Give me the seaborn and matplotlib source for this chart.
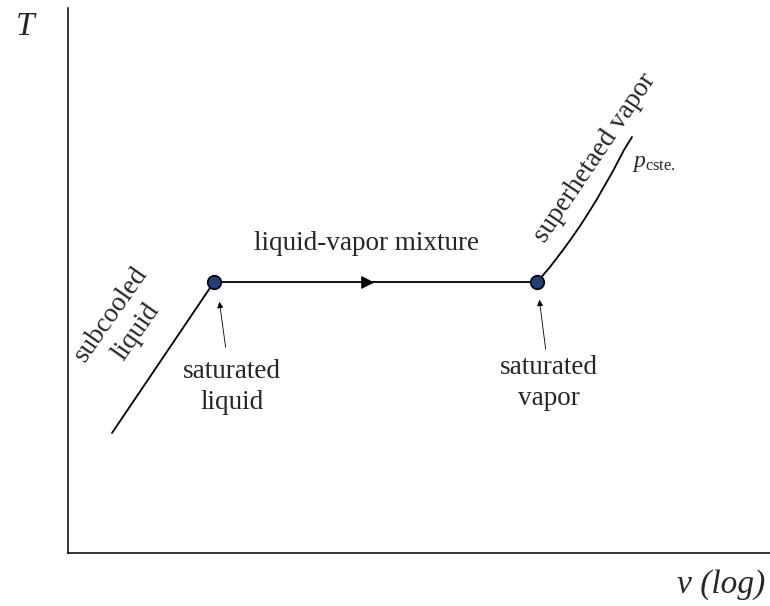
import numpy as np
import matplotlib
matplotlib.use("Agg")
import matplotlib.pyplot as plt
import seaborn as sns

# 스타일 설정
sns.set_style("white")
plt.rcParams["font.family"] = ["Liberation Serif", "DejaVu Serif"]
plt.rcParams["mathtext.fontset"] = "custom"
plt.rcParams["mathtext.rm"] = "Liberation Serif"
plt.rcParams["mathtext.it"] = "Liberation Serif:italic"

# 곡선 데이터 (도식 좌표)
v_sub = [44, 146]
T_sub = [120, 271]
v_mix = [146, 469]
T_mix = [271, 271]
v_sup = [469, 476, 482, 495, 503, 512, 521, 529, 537, 545, 556, 564]
T_sup = [271, 279, 286, 303, 314, 327, 341, 354, 368, 382, 403, 416]
v_sat = [146, 469]
T_sat = [271, 271]
v_dir = [299]
T_dir = [271]

fig = plt.figure(figsize=(7.7, 6.06), dpi=100)
ax = fig.add_axes([68 / 770, 53 / 606, 702 / 770, 545 / 606])

sns.lineplot(x=v_sub, y=T_sub, sort=False, color="black", lw=1.3, ax=ax)
sns.lineplot(x=v_mix, y=T_mix, sort=False, color="black", lw=1.3, ax=ax)
sns.lineplot(x=v_sup, y=T_sup, sort=False, color="black", lw=1.3, ax=ax)
sns.scatterplot(x=v_dir, y=T_dir, marker=">", s=70, color="black",
                edgecolor="black", ax=ax, zorder=4)
sns.scatterplot(x=v_sat, y=T_sat, s=95, color="#233f7a", edgecolor="black",
                linewidth=1.2, ax=ax, zorder=5)

ax.set_xlim(0, 702)
ax.set_ylim(0, 545)
ax.set_xticks([])
ax.set_yticks([])
for side in ["top", "right"]:
    ax.spines[side].set_visible(False)
for side in ["left", "bottom"]:
    ax.spines[side].set_color("black")
    ax.spines[side].set_linewidth(1.1)

# 라벨
fs = 19.5
ax.text(299, 309, "liquid-vapor mixture", fontsize=fs, ha="center", va="center")
ax.text(164, 166, "saturated\nliquid", fontsize=fs, ha="center", va="center",
        linespacing=1.35)
ax.text(481, 170, "saturated\nvapor", fontsize=fs, ha="center", va="center",
        linespacing=1.35)
ax.text(56, 230, "subcooled\nliquid", fontsize=fs, ha="center", va="center",
        rotation=55, rotation_mode="anchor", linespacing=1.3)
ax.text(527, 395, "superhetaed vapor", fontsize=fs, ha="center", va="center",
        rotation=56, rotation_mode="anchor")
ax.text(564, 389, r"$p_{\mathrm{cste.}}$", fontsize=17, ha="left", va="center")

ax.annotate("", xy=(151, 254), xytext=(158, 203),
            arrowprops=dict(arrowstyle="-|>", color="black", lw=0.6,
                            mutation_scale=9))
ax.annotate("", xy=(471, 256), xytext=(478, 201),
            arrowprops=dict(arrowstyle="-|>", color="black", lw=0.6,
                            mutation_scale=9))

fig.text(25 / 770, 1 - 27 / 606, "T", fontsize=24, fontstyle="italic",
         ha="center", va="center")
fig.text(765 / 770, 1 - 585 / 606, "v (log)", fontsize=24, fontstyle="italic",
         ha="right", va="center")

fig.savefig("out.png", dpi=100)
